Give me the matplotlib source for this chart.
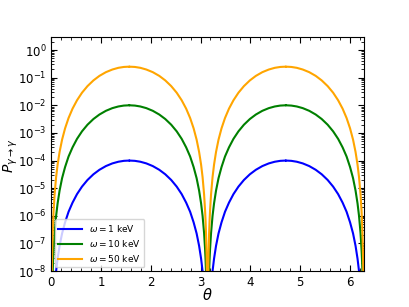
import matplotlib
matplotlib.use('Agg')
import matplotlib.pyplot as plt  # noqa: E402
import numpy as np  # noqa: E402
from matplotlib.ticker import LogLocator, AutoMinorLocator, NullFormatter  # noqa: E402

# ------------------------------------------------------------------
# Values. The picture is symmetric about the
# nodes at 0, pi, 2pi, so one half-arch is tabulated: distance from the
# nearest node and the conversion probability there.
# ------------------------------------------------------------------
arch_offset = [0.01, 0.02, 0.03, 0.04, 0.05, 0.07, 0.10, 0.13, 0.17, 0.22,
               0.28, 0.35, 0.43, 0.52, 0.62, 0.73, 0.85, 0.97, 1.10, 1.23,
               1.35, 1.46, 1.5708]
p_1kev = [1.0e-12, 1.6e-11, 8.1e-11, 2.6e-10, 6.2e-10, 2.4e-9, 9.9e-9, 2.8e-8,
          8.2e-8, 2.3e-7, 5.8e-7, 1.4e-6, 3.0e-6, 6.1e-6, 1.14e-5, 1.98e-5,
          3.19e-5, 4.63e-5, 6.31e-5, 7.89e-5, 9.06e-5, 9.76e-5, 1.0e-4]
p_10kev = [1.0e-10, 1.6e-9, 8.1e-9, 2.6e-8, 6.2e-8, 2.4e-7, 9.9e-7, 2.8e-6,
           8.2e-6, 2.3e-5, 5.8e-5, 1.4e-4, 3.0e-4, 6.1e-4, 1.14e-3, 1.98e-3,
           3.19e-3, 4.63e-3, 6.31e-3, 7.89e-3, 9.06e-3, 9.76e-3, 1.0e-2]
p_50kev = [2.5e-9, 4.0e-8, 2.0e-7, 6.4e-7, 1.56e-6, 6.0e-6, 2.5e-5, 7.1e-5,
           2.05e-4, 5.7e-4, 1.46e-3, 3.46e-3, 7.55e-3, 1.52e-2, 2.85e-2,
           4.94e-2, 7.96e-2, 0.116, 0.158, 0.197, 0.227, 0.244, 0.25]

labels = [r'$\omega = 1$ keV', r'$\omega = 10$ keV', r'$\omega = 50$ keV']
colors = ['blue', 'green', 'orange']


def full_period(offsets, values):
    d = np.asarray(offsets)
    v = np.asarray(values)
    theta = np.concatenate([d, np.pi - d[::-1], np.pi + d, 2 * np.pi - d[::-1]])
    prob = np.concatenate([v, v[::-1], v, v[::-1]])
    return theta, prob


fig, ax = plt.subplots(figsize=(4.09, 3.07), dpi=100)
fig.subplots_adjust(left=0.125, right=0.89, bottom=0.117, top=0.88)

for vals, lab, col in zip([p_1kev, p_10kev, p_50kev], labels, colors):
    th, pr = full_period(arch_offset, vals)
    ax.plot(th, pr, color=col, lw=1.5, label=lab)

ax.set_yscale('log')
ax.set_xlim(0, 2 * np.pi)
ax.set_ylim(1e-8, 3)
ax.yaxis.set_major_locator(LogLocator(base=10, numticks=20))
ax.yaxis.set_minor_locator(LogLocator(base=10, subs=np.arange(2, 10), numticks=100))
ax.yaxis.set_minor_formatter(NullFormatter())
ax.xaxis.set_minor_locator(AutoMinorLocator(5))
ax.tick_params(which='both', direction='in', top=True, right=True, labelsize=8.5)
ax.tick_params(which='major', length=4)
ax.tick_params(which='minor', length=2)

ax.set_xlabel(r'$\theta$', fontsize=10.5)
ax.set_ylabel(r'$P_{\gamma\to\gamma}$', fontsize=10)
ax.xaxis.set_label_coords(0.5, -0.068)
ax.yaxis.set_label_coords(-0.1, 0.49)
ax.legend(loc='lower left', fontsize=6.5, handlelength=2.6,
          borderaxespad=0.4, labelspacing=0.45)

plt.savefig('out.png', dpi=100)
plt.close()
